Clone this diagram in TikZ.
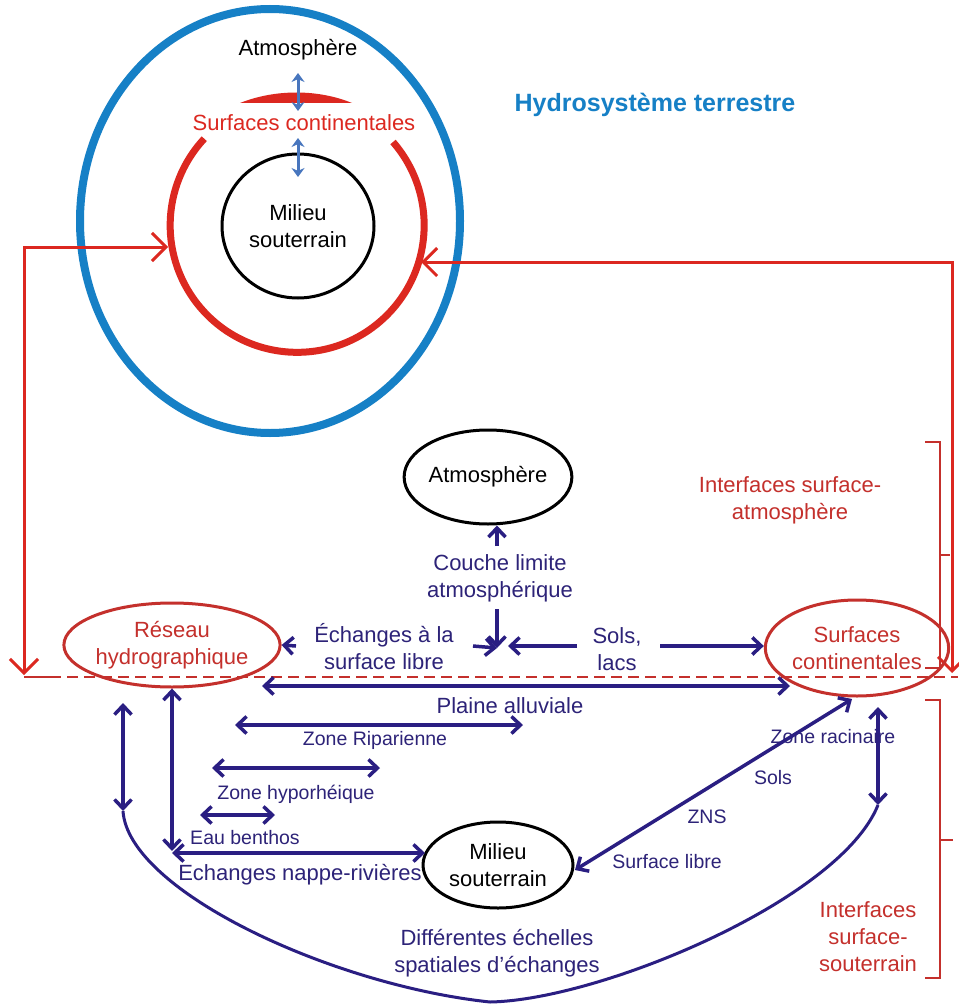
\documentclass[tikz,border=0pt]{standalone}
\usepackage{fontspec}
\setmainfont{Liberation Sans}
\usetikzlibrary{arrows.meta,shapes.geometric}
\definecolor{navy}{RGB}{42,30,130}
\definecolor{navytext}{RGB}{45,35,120}
\definecolor{ringred}{RGB}{220,40,32}
\definecolor{txtred}{RGB}{196,48,44}
\definecolor{hydroblue}{RGB}{22,128,198}
\definecolor{smallblue}{RGB}{72,118,190}
\tikzset{
  big/.style={font=\fontsize{22}{27}\selectfont},
  small/.style={font=\fontsize{19.5}{24}\selectfont},
  navtext/.style={big,text=navytext,align=center,inner sep=0pt},
  navsmall/.style={small,text=navytext,align=center,inner sep=0pt},
  redtext/.style={big,text=txtred,align=center,inner sep=0pt},
  blackell/.style={ellipse,draw=black,line width=3pt,big,align=center,inner sep=0pt},
  redell/.style={ellipse,draw=txtred,line width=3pt,big,text=txtred,align=center,inner sep=0pt},
  navline/.style={draw=navy,line width=3.5pt},
  navboth/.style={navline,{Straight Barb[length=9pt,width=17pt]}-{Straight Barb[length=9pt,width=17pt]}},
  navto/.style={navline,-{Straight Barb[length=9pt,width=17pt]}},
  redline/.style={draw=ringred,line width=3pt},
  redboth/.style={redline,{Straight Barb[length=14pt,width=28pt]}-{Straight Barb[length=14pt,width=28pt]}},
  bracket/.style={draw=txtred,line width=2.5pt},
  bluedbl/.style={draw=smallblue,line width=3pt,{Stealth[length=9pt,width=13pt]}-{Stealth[length=9pt,width=13pt]}},
}
\begin{document}
\begin{tikzpicture}[x=1pt,y=-1pt]
\useasboundingbox (0,0) rectangle (958,1006);
\fill[white] (0,0) rectangle (958,1006);

% ---------- upper part ----------
\draw[draw=hydroblue,line width=8pt] (270,221) ellipse[x radius=190,y radius=212];
\draw[draw=ringred,line width=7pt] (393,142) arc[start angle=-41,end angle=223,radius=127];
\fill[ringred] (240,103) .. controls (275,89) and (318,89) .. (352,103) -- cycle;

\node[blackell,minimum width=152pt,minimum height=144pt] (mil1) at (298,226) {Milieu\\souterrain};
\node[big,inner sep=0pt] (atm1) at (298,50) {Atmosphère};
\node[big,text=ringred,inner sep=0pt] (sc1) at (304,123) {Surfaces continentales};
\node[font=\bfseries\fontsize{25}{30}\selectfont,text=hydroblue,inner sep=0pt] (hydro) at (655,105) {Hydrosystème terrestre};

\coordinate (b1a) at (298,73);
\coordinate (b1b) at (298,111);
\coordinate (b2a) at (298,138);
\coordinate (b2b) at (298,177);
\draw[bluedbl] (b1a) -- (b1b);
\draw[bluedbl] (b2a) -- (b2b);

% red feedback arrows
\coordinate (ringL) at (168,247);
\coordinate (cornL) at (24,247);
\coordinate (downL) at (24,675);
\coordinate (ringR) at (421,262);
\coordinate (cornR) at (952,262);
\coordinate (downR) at (952,673);
\draw[redboth] (ringL) -- (cornL) -- (downL);
\draw[redboth] (ringR) -- (cornR) -- (downR);

\coordinate (dash0) at (24,677);
\coordinate (dash1) at (50,677);
\coordinate (dash2) at (958,677);
\draw[draw=txtred,line width=2.5pt] (dash0) -- (dash1);
\draw[draw=txtred,line width=2.5pt,dash pattern=on 11pt off 6pt] (dash1) -- (dash2);

% brackets
\draw[bracket] (925,442) -- (940,442) -- (940,668) -- (925,668);
\draw[bracket] (940,555) -- (950,555);
\draw[bracket] (925,700) -- (940,700) -- (940,978) -- (925,978);
\draw[bracket] (940,840) -- (953,840);

\node[redtext] (ifa) at (790,500) {Interfaces surface-\\atmosphère};
\node[redtext] (ifs) at (868,937) {Interfaces\\surface-\\souterrain};

% ---------- lower part ----------
\node[blackell,minimum width=154pt,minimum height=94pt] (atm2) at (488,477) {Atmosphère};
\node[redell,minimum width=206pt,minimum height=84pt] (reseau) at (172,645) {Réseau\\hydrographique};
\node[redell,minimum width=156pt,minimum height=96pt] (surf) at (857,648) {Surfaces\\continentales};
\node[blackell,minimum width=150pt,minimum height=86pt] (mil2) at (498,865) {Milieu\\souterrain};

\node[navtext] (couche) at (500,578) {Couche limite\\atmosphérique};
\node[navtext] (echl) at (384,647) {Échanges à la\\surface libre};
\node[navtext] (sols) at (617,649) {Sols,\\lacs};
\node[navtext] (plaine) at (510,706) {Plaine alluviale};
\node[navsmall] (ripa) at (375,740) {Zone Riparienne};
\node[navsmall] (hypo) at (296,794) {Zone hyporhéique};
\node[navsmall] (benth) at (245,838) {Eau benthos};
\node[navtext] (nappe) at (300,875) {Echanges nappe-rivières};
\node[navsmall] (racin) at (833,737) {Zone racinaire};
\node[navsmall] (sols2) at (773,778) {Sols};
\node[navsmall] (zns) at (707,817) {ZNS};
\node[navsmall] (slibre) at (667,862) {Surface libre};
\node[navtext] (diff) at (497,953) {Différentes échelles\\spatiales d’échanges};

\coordinate (cup) at (497,546);
\draw[navto] (cup) -- (cup |- atm2.south);
\coordinate (cdn) at (497,609);
\coordinate (hub) at (497,648);
\draw[navto] (cdn) -- (hub);
\coordinate (eR) at (473,646);
\draw[navto] (eR) -- (hub);
\coordinate (eL) at (296,646);
\draw[navto] (eL) -- (reseau.east);
\coordinate (sL) at (577,646);
\coordinate (sLt) at (508,646);
\draw[navto] (sL) -- (sLt);
\coordinate (sR) at (660,646);
\draw[navto] (sR) -- (surf.west |- sR);

\coordinate (pa1) at (262,686);
\coordinate (pa2) at (790,686);
\draw[navboth] (pa1) -- (pa2);
\coordinate (zr1) at (235,725);
\coordinate (zr2) at (523,725);
\draw[navboth] (zr1) -- (zr2);
\coordinate (zh1) at (212,768);
\coordinate (zh2) at (380,768);
\draw[navboth] (zh1) -- (zh2);
\coordinate (eb1) at (200,815);
\coordinate (eb2) at (275,815);
\draw[navboth] (eb1) -- (eb2);
\coordinate (nr1) at (172,853);
\coordinate (nr2) at (425,853);
\draw[navboth] (nr1) -- (nr2);
\coordinate (rv) at (172,851);
\draw[navboth] (reseau.south) -- (rv);
\coordinate (lv1) at (123,703);
\coordinate (lv2) at (123,811);
\draw[navboth] (lv1) -- (lv2);
\coordinate (rv1) at (878,707);
\coordinate (rv2) at (878,805);
\draw[navboth] (rv1) -- (rv2);
\coordinate (dg1) at (852,699);
\coordinate (dg2) at (575,870);
\draw[navboth] (dg1) -- (dg2);

\coordinate (cbot) at (490,1002);
\draw[draw=navy,line width=3pt] (lv2) .. controls (128,890) and (330,985) .. (cbot)
  .. controls (600,1000) and (840,900) .. (rv2);
\end{tikzpicture}
\end{document}
